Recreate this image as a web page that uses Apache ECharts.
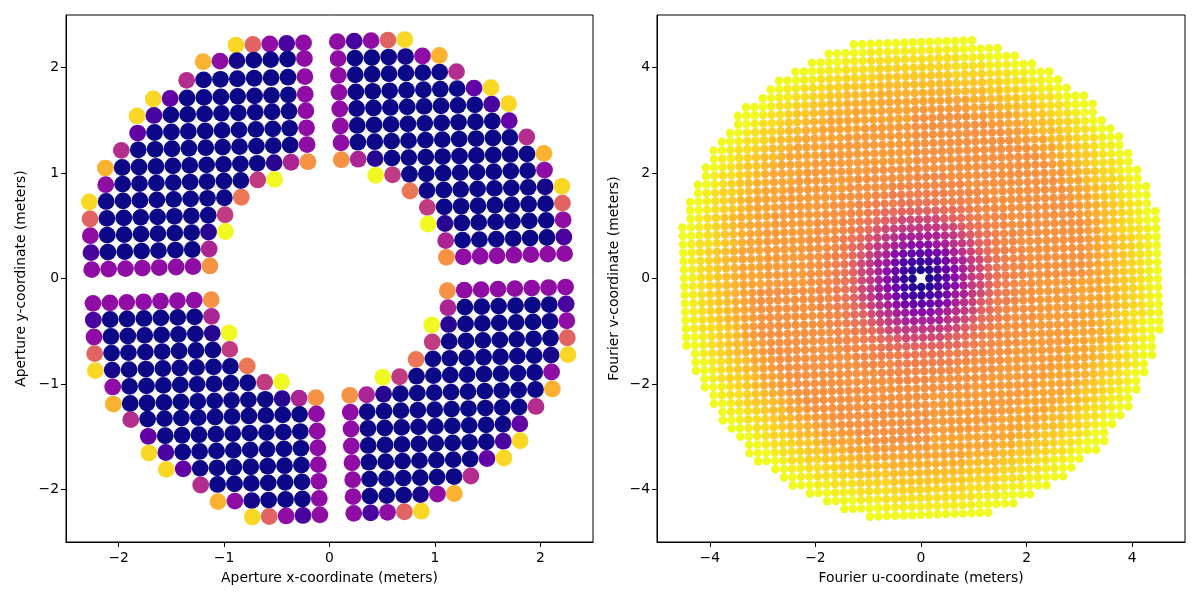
<!DOCTYPE html>
<html>
<head>
<meta charset="utf-8">
<title>Aperture and Fourier coverage</title>
<script src="https://cdn.jsdelivr.net/npm/echarts@6/dist/echarts.min.js"></script>
<style>
  html, body { margin: 0; padding: 0; background: #fff; }
  #chart { width: 1200px; height: 600px; }
</style>
</head>
<body>
<div id="chart"></div>
<script>
// tick labels
const apertureTicks = [-2, -1, 0, 1, 2];
const fourierTicks = [-4, -2, 0, 2, 4];

// left panel: one row of sub-apertures per entry, first point + step along the row
const apertureStep = [0.1602, 0.005];
const apertureRowStartX = [
  -0.887, -1.199, -1.355, -1.672, -1.826, -1.82, -1.975, -2.127, -2.123, -2.279, -2.272, -2.269, -2.263, -2.256,
  0.074, 0.081, 0.084, 0.09, 0.097, 0.103, 0.109, 0.112, 0.438, 0.764, 0.928, 0.935, 1.102, 1.109,
  -2.244, -2.241, -2.234, -2.228, -2.222, -2.057, -2.051, -1.886, -1.719, -1.713, -1.548, -1.222, -1.058, -0.732,
  1.118, 1.124, 0.97, 0.975, 0.821, 0.505, 0.192, 0.197, 0.204, 0.207, 0.213, 0.22, 0.223, 0.23
];
const apertureRowStartY = [
  2.215, 2.057, 1.88, 1.703, 1.542, 1.38, 1.216, 1.048, 0.89, 0.726, 0.565, 0.406, 0.245, 0.084,
  2.247, 2.086, 1.928, 1.766, 1.608, 1.447, 1.288, 1.127, 0.979, 0.83, 0.675, 0.517, 0.359, 0.201,
  -0.236, -0.394, -0.555, -0.713, -0.874, -1.029, -1.191, -1.339, -1.497, -1.656, -1.811, -1.959, -2.117, -2.263,
  -0.116, -0.277, -0.441, -0.602, -0.767, -0.937, -1.108, -1.269, -1.428, -1.589, -1.748, -1.909, -2.07, -2.228
];
// colour value of each point in percent of the colour scale
const apertureRowValues = [
  [92, 60, 30, 12, 30],
  [83, 30, 2, 0, 0, 0, 30],
  [41, 0, 0, 0, 0, 0, 0, 30],
  [92, 18, 0, 0, 0, 0, 0, 0, 0, 30],
  [92, 12, 0, 0, 0, 0, 0, 0, 0, 0, 30],
  [18, 0, 0, 0, 0, 0, 0, 0, 0, 0, 30],
  [41, 0, 0, 0, 0, 0, 0, 0, 0, 0, 0, 30],
  [83, 0, 0, 0, 0, 0, 0, 0, 0, 0, 5, 38, 74],
  [30, 0, 0, 0, 0, 0, 0, 0, 0, 46, 100],
  [92, 0, 0, 0, 0, 0, 0, 0, 0, 66],
  [60, 0, 0, 0, 0, 0, 0, 0, 46],
  [30, 0, 0, 0, 0, 0, 0, 5, 100],
  [12, 0, 0, 0, 0, 0, 0, 38],
  [30, 30, 30, 30, 30, 30, 30, 74],

  [30, 12, 30, 60, 92],
  [30, 0, 0, 0, 2, 30, 83],
  [30, 0, 0, 0, 0, 0, 0, 41],
  [30, 0, 0, 0, 0, 0, 0, 0, 18, 92],
  [30, 0, 0, 0, 0, 0, 0, 0, 0, 12, 92],
  [30, 0, 0, 0, 0, 0, 0, 0, 0, 0, 18],
  [30, 0, 0, 0, 0, 0, 0, 0, 0, 0, 0, 41],
  [74, 38, 5, 0, 0, 0, 0, 0, 0, 0, 0, 0, 83],
  [100, 46, 0, 0, 0, 0, 0, 0, 0, 0, 30],
  [66, 0, 0, 0, 0, 0, 0, 0, 2, 92],
  [46, 0, 0, 0, 0, 0, 0, 0, 60],
  [100, 5, 0, 0, 0, 0, 0, 0, 30],
  [38, 0, 0, 0, 0, 0, 0, 12],
  [74, 30, 30, 30, 30, 30, 30, 30],

  [30, 30, 30, 30, 30, 30, 30, 74],
  [12, 0, 0, 0, 0, 0, 0, 38],
  [30, 0, 0, 0, 0, 0, 0, 5, 100],
  [60, 0, 0, 0, 0, 0, 0, 0, 46],
  [92, 2, 0, 0, 0, 0, 0, 0, 0, 66],
  [30, 0, 0, 0, 0, 0, 0, 0, 0, 46, 100],
  [83, 0, 0, 0, 0, 0, 0, 0, 0, 0, 5, 38, 74],
  [41, 0, 0, 0, 0, 0, 0, 0, 0, 0, 0, 30],
  [18, 0, 0, 0, 0, 0, 0, 0, 0, 0, 30],
  [92, 12, 0, 0, 0, 0, 0, 0, 0, 0, 30],
  [92, 18, 0, 0, 0, 0, 0, 0, 0, 30],
  [41, 0, 0, 0, 0, 0, 0, 30],
  [83, 30, 2, 0, 0, 0, 30],
  [92, 60, 30, 12, 30],

  [74, 30, 30, 30, 30, 30, 30, 30],
  [38, 0, 0, 0, 0, 0, 0, 12],
  [100, 5, 0, 0, 0, 0, 0, 0, 30],
  [46, 0, 0, 0, 0, 0, 0, 0, 60],
  [66, 0, 0, 0, 0, 0, 0, 0, 2, 92],
  [100, 46, 0, 0, 0, 0, 0, 0, 0, 0, 30],
  [74, 38, 5, 0, 0, 0, 0, 0, 0, 0, 0, 0, 83],
  [30, 0, 0, 0, 0, 0, 0, 0, 0, 0, 0, 41],
  [30, 0, 0, 0, 0, 0, 0, 0, 0, 0, 18],
  [30, 0, 0, 0, 0, 0, 0, 0, 0, 12, 92],
  [30, 0, 0, 0, 0, 0, 0, 0, 18, 92],
  [30, 0, 0, 0, 0, 0, 0, 41],
  [30, 0, 0, 0, 2, 30, 83],
  [30, 12, 30, 60, 92]
];

// right panel: same idea, first point of each row + step along the row
const fourierStep = [0.16, 0.0055];
const fourierRowStartU = [
  -1.274, -1.749, -2.063, -2.378, -2.692, -2.847, -3.001, -3.316, -3.47, -3.465, -3.619, -3.774, -3.928, -3.923,
  -4.077, -4.072, -4.226, -4.221, -4.375, -4.37, -4.364, -4.519, -4.513, -4.508, -4.502, -4.497, -4.491, -4.486,
  -4.48, -4.475, -4.469, -4.464, -4.458, -4.453, -4.447, -4.442, -4.276, -4.27, -4.265, -4.1, -4.094, -3.929,
  -3.923, -3.758, -3.752, -3.587, -3.421, -3.256, -3.25, -3.085, -2.759, -2.594, -2.428, -2.103, -1.777, -1.452, -0.966
];
const fourierRowStartV = [
  4.442, 4.265, 4.094, 3.923, 3.752, 3.587, 3.421, 3.25, 3.085, 2.925, 2.759, 2.594, 2.428, 2.268,
  2.103, 1.943, 1.777, 1.617, 1.452, 1.292, 1.132, 0.966, 0.806, 0.646, 0.486, 0.326, 0.166, 0.006,
  -0.154, -0.314, -0.474, -0.634, -0.794, -0.954, -1.114, -1.274, -1.429, -1.589, -1.749, -1.903, -2.063, -2.218,
  -2.378, -2.532, -2.692, -2.847, -3.001, -3.156, -3.316, -3.47, -3.619, -3.774, -3.928, -4.077, -4.226, -4.375, -4.519
];
// colour of each row as runs: level char (base 36, 0 = 0.0, z = 1.0) + run length, "-" = no point
const fourierRowRuns = [
  'z15',
  'z5 y11 z5',
  'z4 y3 x11 y3 z4',
  'z3 y3 x4 w9 x4 y3 z3',
  'z3 y2 x3 w4 v9 w4 x3 y2 z3',
  'z2 y2 x3 w2 v4 u9 v4 w2 x3 y2 z2',
  'z2 y2 x2 w2 v2 u4 t9 u4 v2 w2 x2 y2 z2',
  'z3 y1 x2 w2 v2 u2 t4 s11 t2 u2 v2 w2 x2 y1 z3',
  'z3 y1 x2 w1 v2 u2 t3 s7 r7 s3 t1 u2 v2 w1 x2 y1 z3',
  'z2 y1 x2 w1 v2 u1 t2 s10 q7 r2 s3 t1 u1 v2 w1 x2 y1 z2',
  'z2 y1 x1 w2 v1 u2 t2 s5 r6 q9 r2 s2 t1 u2 v1 w2 x1 y1 z2',
  'z2 y1 x2 w1 v1 u2 t1 s5 r8 q11 r2 s1 t1 u2 v1 w1 x2 y1 z2',
  'z2 y1 x2 w1 v1 u2 t1 s4 r10 q12 r2 s2 u2 v1 w1 x2 y1 z2',
  'z1 y2 x1 w1 v1 u2 t1 s4 r11 q14 r1 s2 u2 v1 w1 x1 y2 z1',
  'z2 y1 x1 w1 v2 u1 t1 s4 r12 q15 r1 s1 t1 u1 v2 w1 x1 y1 z2',
  'z1 y1 x2 w1 v1 u1 t1 s4 r8 q21 r1 s1 t1 u1 v1 w1 x2 y1 z1',
  'z2 y1 x1 w1 v1 u1 t2 s3 r7 q7 p4 q12 r2 s1 t1 u1 v1 w1 x1 y1 z2',
  'z1 y1 x1 w2 v1 u1 t1 s3 r7 q5 p9 q11 r1 s2 u1 v1 w2 x1 y1 z1',
  'z2 y1 x1 w1 v1 u1 t1 s3 r7 q4 p2 o7 p4 q10 r1 s1 t1 u1 v1 w1 x1 y1 z2',
  'z2 y1 x1 w1 v1 u1 t1 s3 r6 q3 p2 o3 n5 o3 p3 q9 r1 s2 u1 v1 w1 x1 y1 z2',
  'z1 y1 x1 w1 v1 u1 t2 s2 r6 q3 p2 o1 n1 m2 l5 m2 n1 o1 p3 q9 r1 s1 t1 u1 v1 w1 x1 y1 z1',
  'z2 y1 x1 w1 v1 u1 t1 s3 r5 q3 p2 o1 n1 m1 l1 k1 i5 k1 l1 m1 n1 o1 p3 q8 r1 s1 t1 u1 v1 w1 x1 y1 z2',
  'z2 y1 x1 w1 v1 u1 t1 s2 r6 q3 p1 o1 n1 m1 k1 i1 h1 g5 h1 i1 k1 m1 n1 o1 p2 q9 r1 s1 u1 v1 w1 x1 y1 z2',
  'z1 y1 x2 w1 v1 u1 t1 s2 r5 q3 p1 o1 n1 m1 k1 i1 g1 f1 d5 f1 g1 i1 k1 m1 n1 o1 p2 q8 r1 s1 u1 v1 w1 x2 y1 z1',
  'z1 y1 x1 w1 v1 u1 t1 s3 r5 q3 p1 o1 m1 l1 i1 g1 f1 d1 c1 a3 c1 d1 f1 g1 i1 l1 m1 o1 p2 q8 r1 s1 t1 u1 v1 w1 x1 y1 z1',
  'z1 y1 x1 w1 v1 u1 t1 s3 r5 q2 p1 o2 m1 k1 h1 f1 d1 a1 81 71 61 71 81 a1 d1 f1 h1 k1 m1 o2 p2 q7 r1 s1 t1 u1 v1 w1 x1 y1 z1',
  'z1 y1 x1 w1 v1 u1 t1 s3 r5 q2 p1 o1 n1 l1 i1 g1 d1 c1 81 51 41 31 41 51 81 c1 d1 g1 i1 l1 n1 o1 p2 q7 r1 s1 t1 u1 v1 w1 x1 y1 z1',
  'z1 y1 x1 w1 v1 u1 t1 s3 r5 q2 p1 o1 n1 l1 i1 g1 d1 a1 71 41 21 11 21 41 71 a1 d1 g1 i1 l1 n1 o1 p2 q7 r1 s1 t1 u1 v1 w1 x1 y1 z1',
  'z1 y1 x1 w1 v1 u1 t1 s3 r5 q2 p1 o1 n1 l1 i1 g1 d1 a1 61 31 11 -1 11 31 61 a1 d1 g1 i1 l1 n1 o1 p2 q7 r1 s1 t1 u1 v1 w1 x1 y1 z1',
  'z1 y1 x1 w1 v1 u1 t1 s1 r1 q7 p2 o1 n1 l1 i1 g1 d1 a1 71 41 21 11 21 41 71 a1 d1 g1 i1 l1 n1 o1 p1 q2 r5 s3 t1 u1 v1 w1 x1 y1 z1',
  'z1 y1 x1 w1 v1 u1 t1 s1 r1 q7 p2 o1 n1 l1 i1 g1 d1 c1 81 51 41 31 41 51 81 c1 d1 g1 i1 l1 n1 o1 p1 q2 r5 s3 t1 u1 v1 w1 x1 y1 z1',
  'z1 y1 x1 w1 v1 u1 t1 s1 r1 q7 p2 o2 m1 k1 h1 f1 d1 a1 81 71 61 71 81 a1 d1 f1 h1 k1 m1 o2 p1 q2 r5 s3 t1 u1 v1 w1 x1 y1 z1',
  'z1 y1 x1 w1 v1 u1 t1 s1 r1 q8 p2 o1 m1 l1 i1 g1 f1 d1 c1 a3 c1 d1 f1 g1 i1 l1 m1 o1 p1 q3 r5 s3 t1 u1 v1 w1 x1 y1 z1',
  'z1 y1 x2 w1 v1 u1 s1 r1 q8 p2 o1 n1 m1 k1 i1 g1 f1 d5 f1 g1 i1 k1 m1 n1 o1 p1 q3 r5 s2 t1 u1 v1 w1 x2 y1 z1',
  'z2 y1 x1 w1 v1 u1 s1 r1 q9 p2 o1 n1 m1 k1 i1 h1 g5 h1 i1 k1 m1 n1 o1 p1 q3 r6 s2 t1 u1 v1 w1 x1 y1 z2',
  'z2 y1 x1 w1 v1 u1 t1 s1 r1 q8 p3 o1 n1 m1 l1 k1 i5 k1 l1 m1 n1 o1 p2 q3 r5 s3 t1 u1 v1 w1 x1 y1 z2',
  'z1 y1 x1 w1 v1 u1 t1 s1 r1 q9 p3 o1 n1 m2 l5 m2 n1 o1 p2 q3 r6 s2 t2 u1 v1 w1 x1 y1 z1',
  'z2 y1 x1 w1 v1 u1 s2 r1 q9 p3 o3 n5 o3 p2 q3 r6 s3 t1 u1 v1 w1 x1 y1 z2',
  'z2 y1 x1 w1 v1 u1 t1 s1 r1 q10 p4 o7 p2 q4 r7 s3 t1 u1 v1 w1 x1 y1 z2',
  'z1 y1 x1 w2 v1 u1 s2 r1 q11 p9 q5 r7 s3 t1 u1 v1 w2 x1 y1 z1',
  'z2 y1 x1 w1 v1 u1 t1 s1 r2 q12 p4 q7 r7 s3 t2 u1 v1 w1 x1 y1 z2',
  'z1 y1 x2 w1 v1 u1 t1 s1 r1 q21 r8 s4 t1 u1 v1 w1 x2 y1 z1',
  'z2 y1 x1 w1 v2 u1 t1 s1 r1 q15 r12 s4 t1 u1 v2 w1 x1 y1 z2',
  'z1 y2 x1 w1 v1 u2 s2 r1 q14 r11 s4 t1 u2 v1 w1 x1 y2 z1',
  'z2 y1 x2 w1 v1 u2 s2 r2 q12 r10 s4 t1 u2 v1 w1 x2 y1 z2',
  'z2 y1 x2 w1 v1 u2 t1 s1 r2 q11 r8 s5 t1 u2 v1 w1 x2 y1 z2',
  'z2 y1 x1 w2 v1 u2 t1 s2 r2 q9 r6 s5 t2 u2 v1 w2 x1 y1 z2',
  'z2 y1 x2 w1 v2 u1 t1 s3 r2 q7 s10 t2 u1 v2 w1 x2 y1 z2',
  'z3 y1 x2 w1 v2 u2 t1 s3 r7 s7 t3 u2 v2 w1 x2 y1 z3',
  'z3 y1 x2 w2 v2 u2 t2 s11 t4 u2 v2 w2 x2 y1 z3',
  'z2 y2 x2 w2 v2 u4 t9 u4 v2 w2 x2 y2 z2',
  'z2 y2 x3 w2 v4 u9 v4 w2 x3 y2 z2',
  'z3 y2 x3 w4 v9 w4 x3 y2 z3',
  'z3 y3 x4 w9 x4 y3 z3',
  'z4 y3 x11 y3 z4',
  'z5 y11 z5',
  'z15'
];

const plasmaColors = ['#0d0887', '#41049d', '#6a00a8', '#8f0da4', '#b12a90', '#cc4778', '#e16462', '#f2844b', '#fca636', '#fcce25', '#f0f921'];

const aperturePoints = [];
apertureRowValues.forEach((row, r) => {
  row.forEach((value, k) => {
    aperturePoints.push([
      apertureRowStartX[r] + k * apertureStep[0],
      apertureRowStartY[r] + k * apertureStep[1],
      value / 100
    ]);
  });
});

const fourierPoints = [];
fourierRowRuns.forEach((row, r) => {
  let k = 0;
  row.split(' ').forEach(run => {
    const level = run[0];
    const count = parseInt(run.slice(1), 10);
    for (let i = 0; i < count; i++) {
      if (level !== '-') {
        fourierPoints.push([
          fourierRowStartU[r] + k * fourierStep[0],
          fourierRowStartV[r] + k * fourierStep[1],
          parseInt(level, 36) / 35
        ]);
      }
      k++;
    }
  });
});

const textStyle = { color: '#000', fontFamily: 'DejaVu Sans', fontSize: 13.9 };

function makeAxis(gridIndex, limit, ticks, name, nameGap, labelMargin, labelPadding) {
  return {
    type: 'value',
    gridIndex,
    min: -limit,
    max: limit,
    name,
    nameLocation: 'middle',
    nameGap,
    nameTextStyle: textStyle,
    splitLine: { show: false },
    axisLine: { show: true, onZero: false, lineStyle: { color: '#000', width: 1 } },
    axisTick: { show: true, length: 5, customValues: ticks, lineStyle: { color: '#000', width: 1 } },
    axisLabel: {
      ...textStyle,
      margin: labelMargin,
      padding: labelPadding,
      customValues: ticks,
      formatter: v => String(v).replace('-', '\u2212')
    }
  };
}

const chart = echarts.init(document.getElementById('chart'), null, { renderer: 'canvas' });
chart.setOption({
  animation: false,
  backgroundColor: '#fff',
  grid: [
    { left: 66, top: 15, width: 527, height: 527, show: true, borderColor: '#000', borderWidth: 1, backgroundColor: '#fff' },
    { left: 657, top: 15, width: 528, height: 527, show: true, borderColor: '#000', borderWidth: 1, backgroundColor: '#fff' }
  ],
  xAxis: [
    makeAxis(0, 2.5, apertureTicks, 'Aperture x-coordinate (meters)', 29, 9, 0),
    makeAxis(1, 5, fourierTicks, 'Fourier u-coordinate (meters)', 29, 9, 0)
  ],
  yAxis: [
    makeAxis(0, 2.5, apertureTicks, 'Aperture y-coordinate (meters)', 38, 7, [5, 0, 0, 0]),
    makeAxis(1, 5, fourierTicks, 'Fourier v-coordinate (meters)', 36, 7, [5, 0, 0, 0])
  ],
  visualMap: {
    show: false,
    type: 'continuous',
    dimension: 2,
    min: 0,
    max: 1,
    seriesIndex: [0, 1],
    inRange: { color: plasmaColors }
  },
  series: [
    {
      type: 'scatter',
      xAxisIndex: 0,
      yAxisIndex: 0,
      symbolSize: 16.8,
      silent: true,
      itemStyle: { opacity: 1 },
      data: aperturePoints
    },
    {
      type: 'scatter',
      xAxisIndex: 1,
      yAxisIndex: 1,
      symbolSize: 8.6,
      silent: true,
      itemStyle: { opacity: 1 },
      data: fourierPoints
    }
  ]
});
</script>
</body>
</html>
